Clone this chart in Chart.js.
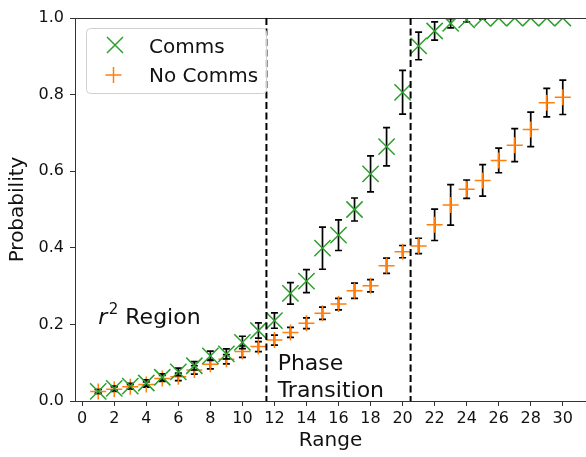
<!DOCTYPE html>
<html><head><meta charset="utf-8">
<script src="https://cdn.jsdelivr.net/npm/chart.js@4.4.1/dist/chart.umd.min.js"></script>
<style>html,body{margin:0;padding:0;background:#fff;overflow:hidden}</style>
</head><body>
<canvas id="c" width="586" height="457"></canvas>
<script>
// ---- data ----
const rangeValues = [1,2,3,4,5,6,7,8,9,10,11,12,13,14,15,16,17,18,19,20,21,22,23,24,25,26,27,28,29,30];
const commsMean = [0.025,0.033,0.039,0.047,0.062,0.076,0.092,0.118,0.123,0.153,0.184,0.210,0.281,0.313,0.399,0.433,0.500,0.593,0.664,0.806,0.927,0.966,0.986,0.995,0.999,1.0,1.0,1.0,1.0,1.0];
const commsErr = [0.005,0.006,0.007,0.008,0.009,0.010,0.011,0.012,0.013,0.016,0.020,0.020,0.028,0.030,0.055,0.040,0.030,0.047,0.050,0.057,0.036,0.024,0.012,0.005,0.002,0,0,0,0,0];
const noCommsMean = [0.025,0.031,0.037,0.043,0.059,0.063,0.081,0.096,0.109,0.129,0.142,0.159,0.179,0.203,0.229,0.253,0.288,0.301,0.353,0.390,0.405,0.460,0.512,0.553,0.576,0.628,0.668,0.709,0.779,0.793];
const noCommsErr = [0.005,0.006,0.006,0.007,0.008,0.010,0.011,0.012,0.012,0.015,0.013,0.013,0.013,0.014,0.016,0.015,0.020,0.016,0.020,0.016,0.020,0.041,0.053,0.024,0.041,0.032,0.043,0.045,0.037,0.045];
const xTickValues = [0,2,4,6,8,10,12,14,16,18,20,22,24,26,28,30];
const yTickValues = [0.0,0.2,0.4,0.6,0.8,1.0];
const xLimits = [-0.45, 31.45];
const yLimits = [0, 1];
const boundaryRanges = [11.5, 20.5];
const seriesLabels = ['Comms', 'No Comms'];
const axisTitles = ['Range', 'Probability'];
const regionText1 = ['r', '2', ' Region'];
const regionText2 = ['Phase', 'Transition'];
const regionAnchor1 = [1.0, 0.2];
const regionAnchor2 = [12.2, 0.01];

// ---- styles ----
const GREEN = '#2ca02c', ORANGE = '#ff7f0e', INK = '#111111', FONT = "'DejaVu Sans'";

const toPoints = (xs, ys) => xs.map((v, i) => ({x: v, y: ys[i]}));

const errorBarPlugin = {
  id: 'errorBars',
  beforeDatasetDraw(chart, args) {
    const ds = chart.data.datasets[args.index];
    if (!ds.errors) return;
    const {ctx, chartArea: a, scales: {x, y}} = chart;
    ctx.save();
    ctx.beginPath(); ctx.rect(a.left, a.top, a.right - a.left, a.bottom - a.top); ctx.clip();
    ctx.strokeStyle = '#000'; ctx.lineWidth = 1.7;
    ds.data.forEach((p, i) => {
      const e = ds.errors[i]; if (!e) return;
      const px = x.getPixelForValue(p.x);
      const y1 = y.getPixelForValue(p.y - e), y2 = y.getPixelForValue(p.y + e);
      ctx.beginPath();
      ctx.moveTo(px, y1); ctx.lineTo(px, y2);
      ctx.moveTo(px - 3.5, y1); ctx.lineTo(px + 3.5, y1);
      ctx.moveTo(px - 3.5, y2); ctx.lineTo(px + 3.5, y2);
      ctx.stroke();
    });
    ctx.restore();
  }
};

const overlayPlugin = {
  id: 'overlay',
  afterDraw(chart) {
    const {ctx, chartArea: a, scales: {x, y}} = chart;
    ctx.save();
    // top spine
    ctx.strokeStyle = '#333'; ctx.lineWidth = 1;
    ctx.beginPath(); ctx.moveTo(a.left, a.top + 0.5); ctx.lineTo(a.right, a.top + 0.5); ctx.stroke();
    // dashed boundaries
    ctx.strokeStyle = '#000'; ctx.lineWidth = 2; ctx.setLineDash([7, 3.5]);
    boundaryRanges.forEach(v => {
      const px = x.getPixelForValue(v);
      ctx.beginPath(); ctx.moveTo(px, a.top); ctx.lineTo(px, a.bottom); ctx.stroke();
    });
    ctx.setLineDash([]);
    // region labels
    ctx.fillStyle = INK; ctx.textBaseline = 'alphabetic'; ctx.textAlign = 'left';
    let tx = x.getPixelForValue(regionAnchor1[0]), ty = y.getPixelForValue(regionAnchor1[1]);
    ctx.font = `oblique 22px ${FONT}`; ctx.fillText(regionText1[0], tx, ty); tx += ctx.measureText(regionText1[0]).width + 1.5;
    ctx.font = `15px ${FONT}`; ctx.fillText(regionText1[1], tx, ty - 10); tx += ctx.measureText(regionText1[1]).width;
    ctx.font = `22px ${FONT}`; ctx.fillText(regionText1[2], tx, ty);
    tx = x.getPixelForValue(regionAnchor2[0]); ty = y.getPixelForValue(regionAnchor2[1]);
    ctx.fillText(regionText2[1], tx, ty);
    ctx.fillText(regionText2[0], tx, ty - 27.5);
    // legend
    const lx = 86, ly = 28, lw = 180, lh = 65;
    ctx.beginPath();
    if (ctx.roundRect) ctx.roundRect(lx + 0.5, ly + 0.5, lw, lh, 4); else ctx.rect(lx + 0.5, ly + 0.5, lw, lh);
    ctx.fillStyle = 'rgba(255,255,255,0.8)'; ctx.fill();
    ctx.strokeStyle = '#d0d0d0'; ctx.lineWidth = 1; ctx.stroke();
    ctx.lineWidth = 1.5;
    ctx.strokeStyle = GREEN; ctx.beginPath();
    ctx.moveTo(107, 37); ctx.lineTo(123, 53); ctx.moveTo(107, 53); ctx.lineTo(123, 37); ctx.stroke();
    ctx.strokeStyle = ORANGE; ctx.beginPath();
    ctx.moveTo(105.5, 75); ctx.lineTo(121.5, 75); ctx.moveTo(113.5, 67); ctx.lineTo(113.5, 83); ctx.stroke();
    ctx.fillStyle = INK; ctx.font = `20px ${FONT}`;
    ctx.fillText(seriesLabels[0], 149, 52.5);
    ctx.fillText(seriesLabels[1], 149, 81.5);
    ctx.restore();
  }
};

new Chart(document.getElementById('c'), {
  type: 'scatter',
  data: {
    datasets: [
      {label: seriesLabels[0], data: toPoints(rangeValues, commsMean), errors: commsErr,
       pointStyle: 'crossRot', pointRadius: 11.5, pointHoverRadius: 11.5, borderColor: GREEN, backgroundColor: GREEN,
       pointBorderWidth: 1.5, showLine: false, clip: 0},
      {label: seriesLabels[1], data: toPoints(rangeValues, noCommsMean), errors: noCommsErr,
       pointStyle: 'cross', pointRadius: 8, pointHoverRadius: 8, borderColor: ORANGE, backgroundColor: ORANGE,
       pointBorderWidth: 1.5, showLine: false, clip: 0}
    ]
  },
  options: {
    responsive: false, animation: false, devicePixelRatio: 1,
    layout: {autoPadding: false, padding: {top: 18, left: 0, right: 0, bottom: 0}},
    plugins: {legend: {display: false}, tooltip: {enabled: false}},
    events: [],
    scales: {
      x: {
        type: 'linear', min: xLimits[0], max: xLimits[1],
        afterBuildTicks: s => { s.ticks = xTickValues.map(v => ({value: v})); },
        afterFit: s => { s.height = 56; s.paddingLeft = 0; s.paddingRight = 0; },
        ticks: {color: INK, font: {family: FONT, size: 16}, padding: 3, maxRotation: 0, autoSkip: false,
                callback: v => String(v)},
        grid: {display: true, drawOnChartArea: false, drawTicks: true, tickLength: 5, color: '#333'},
        border: {display: true, color: '#333', width: 1},
        title: {display: true, text: axisTitles[0], color: INK, font: {family: FONT, size: 20, lineHeight: 1.2}, padding: {top: 0, bottom: 4}}
      },
      y: {
        type: 'linear', min: yLimits[0], max: yLimits[1],
        afterBuildTicks: s => { s.ticks = yTickValues.map(v => ({value: v})); },
        afterFit: s => { s.width = 75; },
        ticks: {color: INK, font: {family: FONT, size: 16}, padding: 6, autoSkip: false,
                callback: v => Number(v).toFixed(1)},
        grid: {display: true, drawOnChartArea: false, drawTicks: true, tickLength: 5, color: '#333'},
        border: {display: true, color: '#333', width: 1},
        title: {display: true, text: axisTitles[1], color: INK, font: {family: FONT, size: 20, lineHeight: 1.2}, padding: {top: 6, bottom: 0}}
      }
    }
  },
  plugins: [errorBarPlugin, overlayPlugin]
});
</script>
</body></html>
